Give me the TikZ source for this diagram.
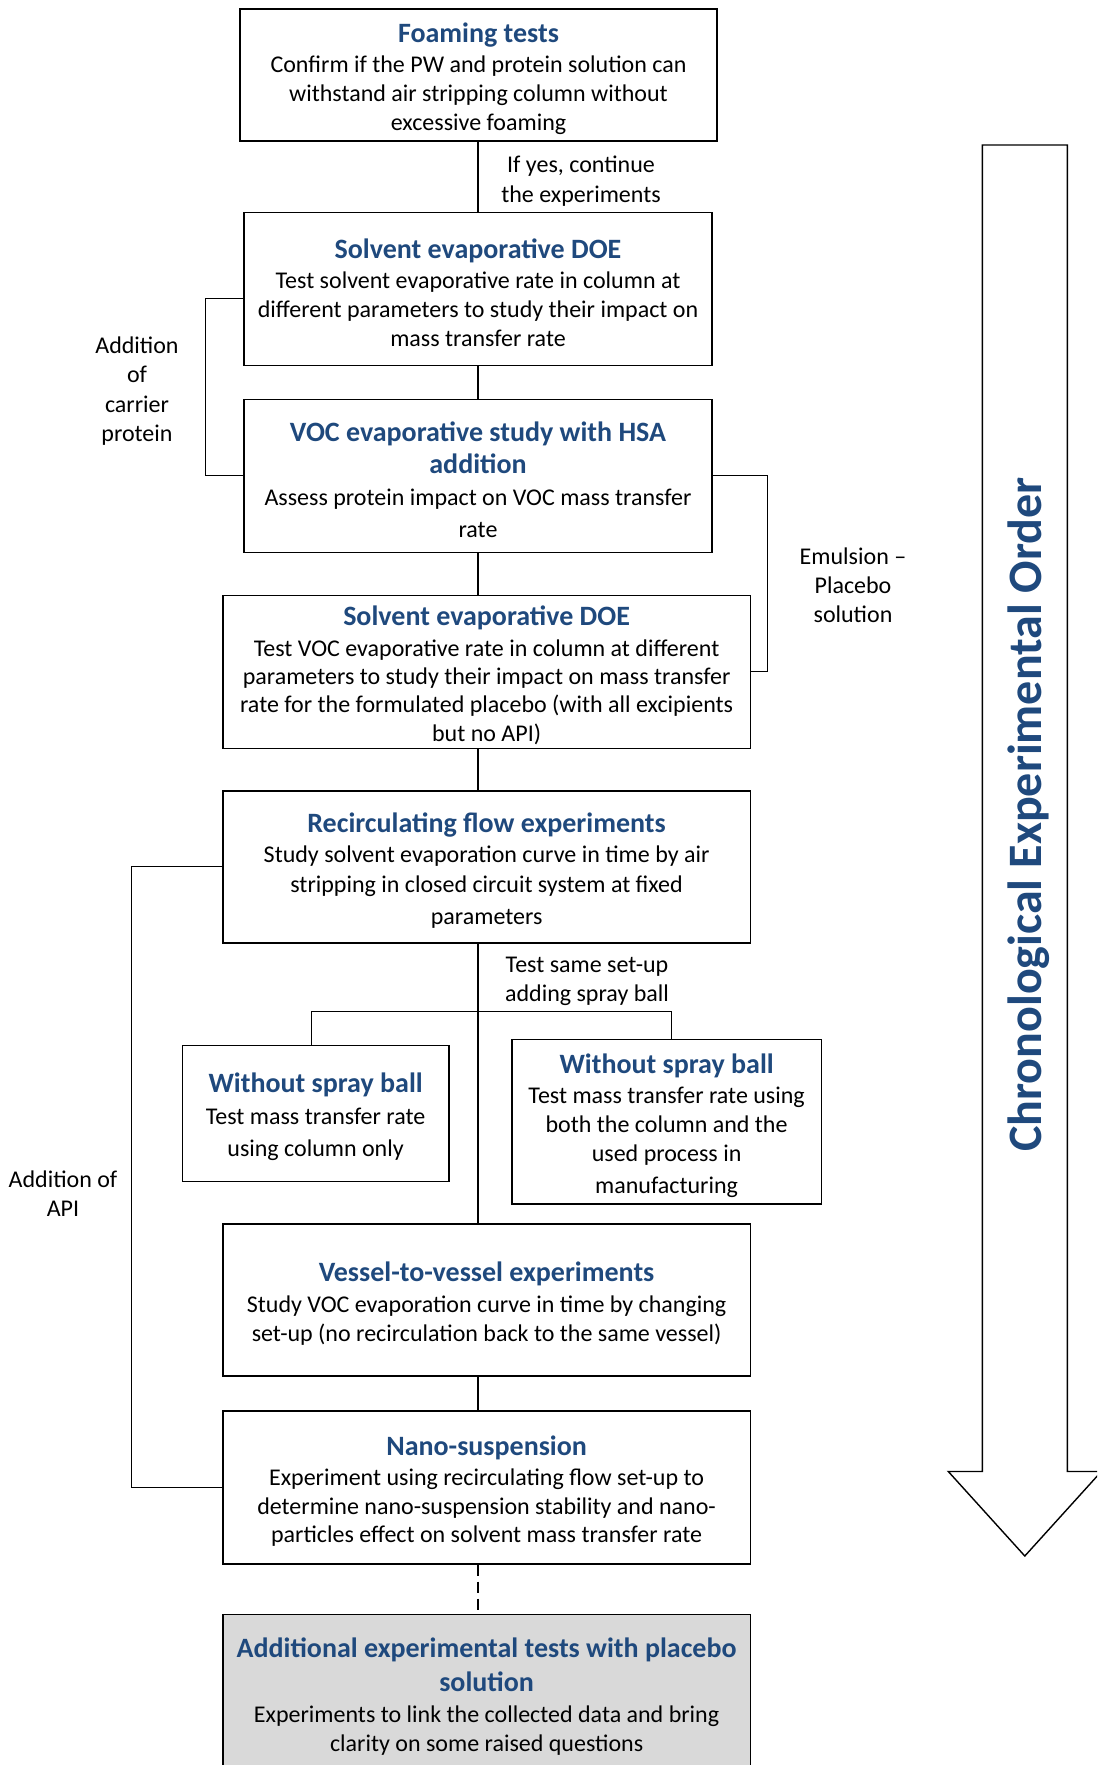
\documentclass[tikz,border=0pt]{standalone}
\usepackage{fontspec}
\setmainfont{Carlito}
\usetikzlibrary{calc}
\definecolor{ttl}{RGB}{31,73,125}
\definecolor{boxgray}{RGB}{217,217,217}
\tikzset{
  box/.style={draw=black, line width=0.7pt, align=center, inner xsep=2pt, inner ysep=0pt,
    font=\fontsize{12}{14.6}\selectfont},
  conn/.style={draw=black, line width=0.55pt},
  lbl/.style={align=center, font=\fontsize{12}{14.6}\selectfont, inner sep=0pt},
}
\newcommand{\ttlf}[1]{{\fontsize{14}{16}\selectfont\bfseries\color{ttl}#1}}
\newcommand{\fl}{\rule{0pt}{13.6pt}}
\begin{document}
\begin{tikzpicture}[x=0.5pt,y=-0.5pt]
\useasboundingbox (0,0) rectangle (1097,1765);
\clip (0,0) rectangle (1097,1765);

% big chronological arrow
\draw[line width=0.7pt, fill=white] (982.3,145) -- (1067.3,145) -- (1067.3,1471.5) -- (1101.3,1471.5)
  -- (1024.8,1556) -- (948.3,1471.5) -- (982.3,1471.5) -- cycle;
\node[rotate=90, text=ttl, font=\fontsize{24}{28}\selectfont\bfseries, inner sep=0pt] (order)
  at (1029,814.5) {Chronological Experimental Order};

% boxes
\node[box, minimum width=238.5pt, minimum height=66pt] (b1) at (478.5,75)
  {\fl\ttlf{Foaming tests}\\[0.56pt] Confirm if the PW and protein solution can\\ withstand air stripping column without\\ excessive foaming};
\node[box, minimum width=234pt, minimum height=76.55pt] (b2) at (478,289.1)
  {\fl\ttlf{Solvent evaporative DOE}\\[0.56pt] Test solvent evaporative rate in column at\\ different parameters to study their impact on\\ mass transfer rate};
\node[box, minimum width=234pt, minimum height=76.5pt] (b3) at (478,475.9)
  {\fl\ttlf{VOC evaporative study with HSA}\\[1.7pt] \ttlf{addition}\\[1.1pt] Assess protein impact on VOC mass transfer\\[1.7pt] rate};
\node[box, minimum width=263.8pt, minimum height=76.5pt] (b4) at (486.6,671.7)
  {\fl\ttlf{Solvent evaporative DOE}\\[0.56pt] Test VOC evaporative rate in column at different\\[-0.56pt] parameters to study their impact on mass transfer\\[-0.56pt] rate for the formulated placebo (with all excipients\\ but no API)};
\node[box, minimum width=263.8pt, minimum height=75.9pt] (b5) at (486.6,866.9)
  {\fl\ttlf{Recirculating flow experiments}\\[0.56pt] Study solvent evaporation curve in time by air\\ stripping in closed circuit system at fixed\\[1.7pt] parameters};
\node[box, minimum width=133.3pt, minimum height=68.1pt] (b6) at (315.6,1113.3)
  {\fl\ttlf{Without spray ball}\\[1.1pt] Test mass transfer rate\\[1.7pt] using column only};
\node[box, minimum width=154.65pt, minimum height=82.15pt] (b7) at (666.6,1121.7)
  {\fl\ttlf{Without spray ball}\\[0.56pt] Test mass transfer rate using\\ both the column and the\\ used process in\\[1.1pt] manufacturing};
\node[box, minimum width=263.8pt, minimum height=75.95pt] (b8) at (486.6,1300)
  {\fl\ttlf{Vessel-to-vessel experiments}\\[0.56pt] Study VOC evaporation curve in time by changing\\ set-up (no recirculation back to the same vessel)};
\node[box, minimum width=263.8pt, minimum height=76.5pt] (b9) at (486.6,1487.4)
  {\fl\ttlf{Nano-suspension}\\[0.56pt] Experiment using recirculating flow set-up to\\ determine nano-suspension stability and nano-\\[-0.56pt] particles effect on solvent mass transfer rate};
\node[box, fill=boxgray, minimum width=263.8pt, minimum height=78.5pt] (b10) at (486.6,1693)
  {\fl\ttlf{Additional experimental tests with placebo}\\[2.25pt] \ttlf{solution}\\[1.1pt] Experiments to link the collected data and bring\\ clarity on some raised questions};

% labels
\node[lbl] (l1) at (581,181.2) {If yes, continue\\the experiments};
\node[lbl] (l2) at (137,391) {Addition\\of\\carrier\\protein};
\node[lbl] (l3) at (853,585) {Emulsion –\\Placebo\\solution};
\node[lbl] (l4) at (587,981) {Test same set-up\\adding spray ball};
\node[lbl] (l5) at (63,1193.5) {Addition of\\API};

% connectors
\coordinate (spine) at (478,0);
\draw[conn] (spine |- b1.south) -- (spine |- b2.north);
\draw[conn] (spine |- b2.south) -- (spine |- b3.north);
\draw[conn] (spine |- b3.south) -- (spine |- b4.north);
\draw[conn] (spine |- b4.south) -- (spine |- b5.north);
\draw[conn] (spine |- b5.south) -- (spine |- b8.north);
\draw[conn] (spine |- b8.south) -- (spine |- b9.north);
\draw[conn, dash pattern=on 5.5pt off 3pt] (spine |- b9.south) -- (spine |- b10.north);

% left bracket (carrier protein)
\coordinate (lbtop) at ($(b2.west)+(0,9.2)$);
\coordinate (lbx) at (205.7,0);
\draw[conn] (lbtop) -- (lbx |- lbtop) -- (lbx |- b3.west) -- (b3.west);

% right bracket (emulsion)
\coordinate (rbx) at (767.7,0);
\draw[conn] (b3.east) -- (rbx |- b3.east) -- (rbx |- b4.east) -- (b4.east);

% big left bracket (API)
\coordinate (lbx2) at (131.6,0);
\draw[conn] (b5.west) -- (lbx2 |- b5.west) -- (lbx2 |- b9.west) -- (b9.west);

% spray ball branch
\coordinate (brY) at (0,1011.5);
\coordinate (b6top) at ($(b6.north)+(-3.9,0)$);
\coordinate (b7top) at ($(b7.north)+(5.1,0)$);
\draw[conn] (b6top) -- (b6top |- brY) -- (b7top |- brY) -- (b7top);
\end{tikzpicture}
\end{document}
